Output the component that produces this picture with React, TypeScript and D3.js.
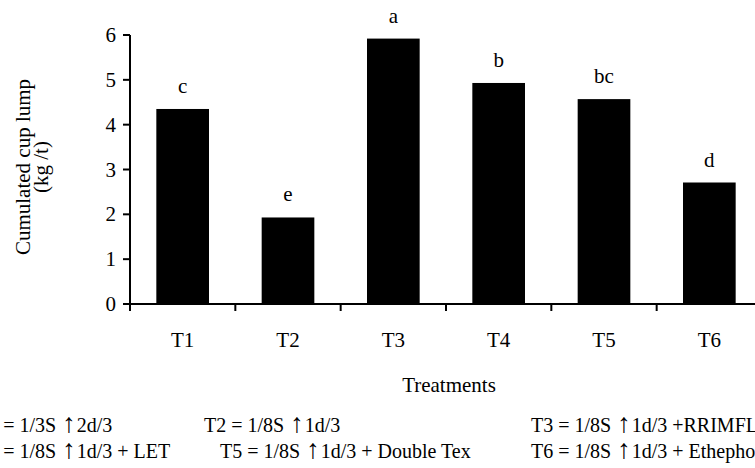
import React from 'react';
import * as d3 from 'd3';

const treatments = ['T1', 'T2', 'T3', 'T4', 'T5', 'T6'];
const cupLump = [4.35, 1.93, 5.92, 4.93, 4.57, 2.71];
const groups = ['c', 'e', 'a', 'b', 'bc', 'd'];
const yTicks = [0, 1, 2, 3, 4, 5, 6];
// legend entries: [before arrow, after arrow]
const legendRow1 = [['T1 = 1/3S ', '2d/3'], ['T2 = 1/8S ', '1d/3'], ['T3 = 1/8S ', '1d/3 +RRIMFLOW']];
const legendRow2 = [['T4 = 1/8S ', '1d/3 + LET'], ['T5 = 1/8S ', '1d/3 + Double Tex'], ['T6 = 1/8S ', '1d/3 + Ethephon']];

const W = 755;
const H = 468;
const font = '"Liberation Serif", "Times New Roman", serif';

export default function App() {
  const x = d3.scaleBand<string>()
    .domain(treatments)
    .range([130, 762])
    .paddingInner(0.5)
    .paddingOuter(0.25);
  const y = d3.scaleLinear().domain([0, 6]).range([304, 35]);
  const step = x.step();
  // category boundaries for the x ticks
  const bounds = treatments.map((t) => (x(t) as number) - step * 0.25).concat([762]);

  const legendText = (parts: string[], lx: number, ly: number) => (
    <text key={parts[0]} x={lx} y={ly} fontSize={20}>
      {parts[0]}
      <tspan dx={1} fontSize={27}>{'\u2191'}</tspan>
      <tspan dx={1}>{parts[1]}</tspan>
    </text>
  );

  return (
    <svg width={W} height={H} style={{ position: 'absolute', left: 0, top: 0, background: '#fff' }}
      fontFamily={font} fill="#000">
      {treatments.map((t, i) => (
        <g key={t}>
          <rect x={x(t)} y={y(cupLump[i])} width={x.bandwidth()} height={y(0) - y(cupLump[i])} fill="#000" />
          <text x={(x(t) as number) + x.bandwidth() / 2} y={y(cupLump[i]) - 16} fontSize={21} textAnchor="middle">
            {groups[i]}
          </text>
          <text x={(x(t) as number) + x.bandwidth() / 2} y={347} fontSize={21} textAnchor="middle">{t}</text>
        </g>
      ))}
      {/* y axis */}
      <line x1={130} x2={130} y1={y(6)} y2={y(0) + 7} stroke="#000" strokeWidth={2} />
      {yTicks.map((v) => (
        <g key={v}>
          <line x1={123} x2={130} y1={y(v)} y2={y(v)} stroke="#000" strokeWidth={2} />
          <text x={116} y={y(v) + 7} fontSize={21} textAnchor="end">{v}</text>
        </g>
      ))}
      {/* x axis */}
      <line x1={123} x2={762} y1={y(0)} y2={y(0)} stroke="#000" strokeWidth={2} />
      {bounds.map((b, i) => (
        <line key={i} x1={b} x2={b} y1={y(0)} y2={y(0) + 7} stroke="#000" strokeWidth={2} />
      ))}
      <text x={449} y={392} fontSize={21} textAnchor="middle">Treatments</text>
      <text transform="translate(30,167) rotate(-90)" fontSize={21} textAnchor="middle">Cumulated cup lump</text>
      <text transform="translate(48,167) rotate(-90)" fontSize={21} textAnchor="middle">(kg /t)</text>
      {legendRow1.map((p, i) => legendText(p, [-24, 204, 531][i], 432))}
      {legendRow2.map((p, i) => legendText(p, [-24, 220, 531][i], 458))}
    </svg>
  );
}
